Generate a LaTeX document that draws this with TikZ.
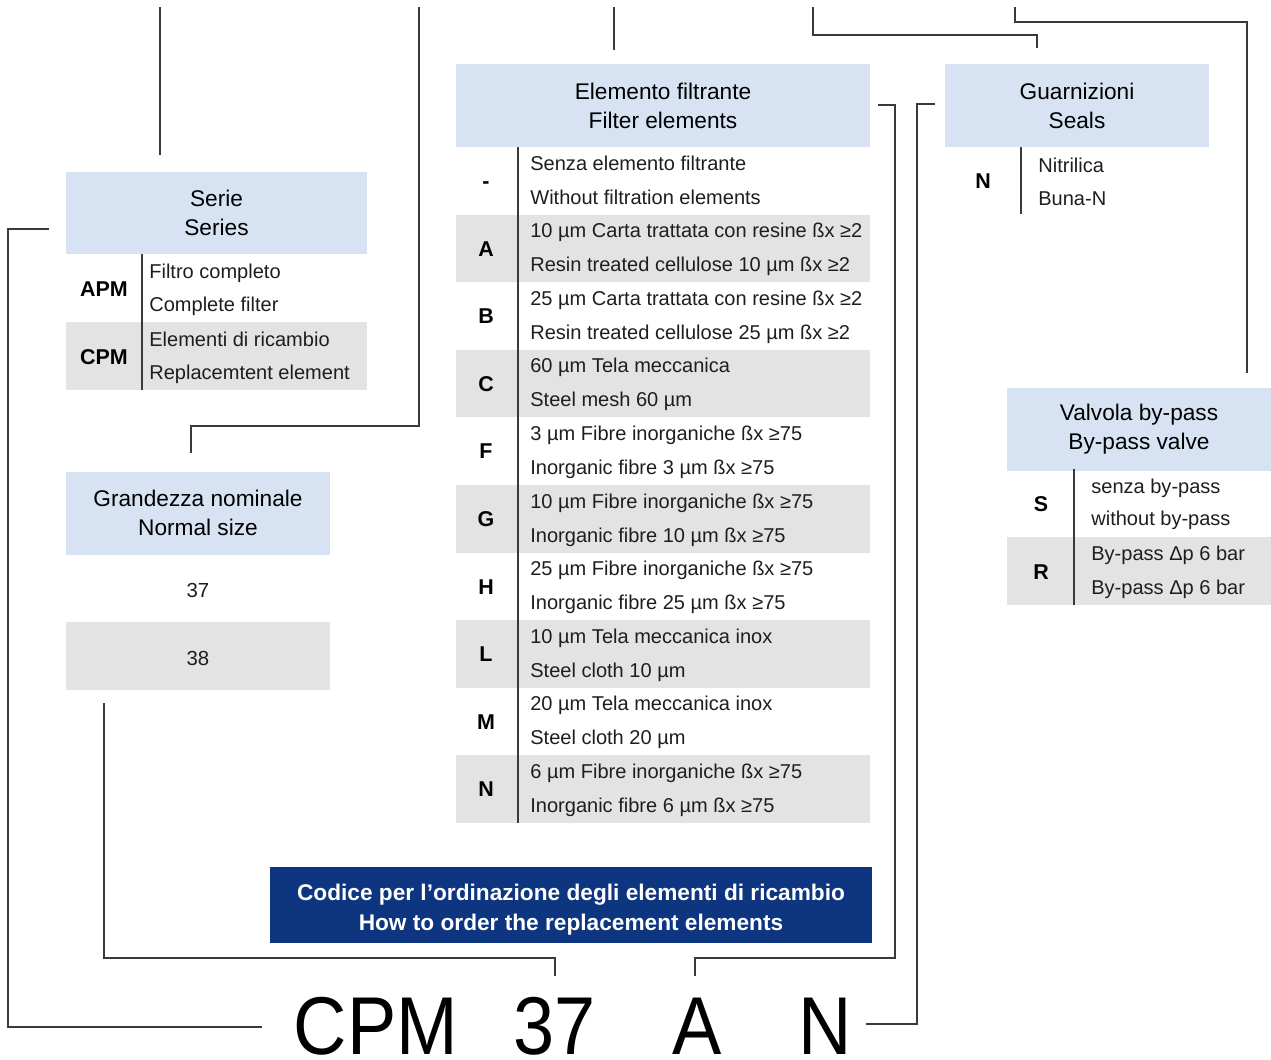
\documentclass[tikz,border=0pt]{standalone}
\usepackage{fontspec}
\setmainfont{Liberation Sans}
\usetikzlibrary{calc}
\definecolor{hdrblue}{HTML}{D7E3F3}
\definecolor{rowgray}{HTML}{E3E3E3}
\definecolor{navy}{HTML}{0E3580}
\definecolor{linegray}{HTML}{3A3A3A}
\definecolor{txt}{HTML}{1E1E1E}
\begin{document}
\begin{tikzpicture}[x=0.02cm,y=-0.02cm,
  hdr/.style={fill=hdrblue, inner sep=0pt, align=center, font=\fontsize{12.9}{16.4}\selectfont, text=black},
  rowtxt/.style={anchor=base west, inner sep=0pt, font=\fontsize{11.4}{13}\selectfont, text=txt},
  code/.style={anchor=base, inner sep=0pt, font=\fontsize{12.2}{14}\selectfont\bfseries, text=black},
  num/.style={anchor=base, inner sep=0pt, font=\fontsize{11.6}{14}\selectfont, text=txt},
  conn/.style={draw=linegray, line width=0.7pt},
  divider/.style={draw=linegray, line width=0.6pt},
  bigcode/.style={anchor=base, inner sep=0pt, font=\fontsize{46.7}{50}\selectfont, xscale=0.9, text=black},
  banner/.style={fill=navy, inner sep=0pt},
  bannertext/.style={text=white, inner sep=0pt, align=center, font=\fontsize{12.9}{17}\selectfont\bfseries}]

\useasboundingbox (0,0) rectangle (1271,1059);

% ---------- Serie ----------
\node[hdr, minimum width=301*0.02cm, minimum height=82*0.02cm] (serie) at (216.5,213) {Serie\\Series};
\fill[rowgray] (66,322) rectangle (367,390);
\draw[divider] (142,254) -- (142,390);
\node[code] (sApm) at (104,296) {APM};
\node[rowtxt] (sA1) at (149,278) {Filtro completo};
\node[rowtxt] (sA2) at (149,311) {Complete filter};
\node[code] (sCpm) at (104,364) {CPM};
\node[rowtxt] (sC1) at (149,346) {Elementi di ricambio};
\node[rowtxt] (sC2) at (149,379) {Replacemtent element};

% ---------- Grandezza ----------
\node[hdr, minimum width=264*0.02cm, minimum height=83*0.02cm] (grand) at (198,513) {Grandezza nominale\\Normal size};
\fill[rowgray] (66,622) rectangle (330,690);
\node[num] (g37) at (198,597) {37};
\node[num] (g38) at (198,665) {38};

% ---------- Elemento filtrante ----------
\node[hdr, minimum width=414*0.02cm, minimum height=83*0.02cm] (elem) at (663,105.5) {Elemento filtrante\\Filter elements};
\foreach \i/\c/\a/\b in {
  0/-/Senza elemento filtrante/Without filtration elements,
  1/A/10 µm Carta trattata con resine ßx ≥2/Resin treated cellulose 10 µm ßx ≥2,
  2/B/25 µm Carta trattata con resine ßx ≥2/Resin treated cellulose 25 µm ßx ≥2,
  3/C/60 µm Tela meccanica/Steel mesh 60 µm,
  4/F/3 µm Fibre inorganiche ßx ≥75/Inorganic fibre 3 µm ßx ≥75,
  5/G/10 µm Fibre inorganiche ßx ≥75/Inorganic fibre 10 µm ßx ≥75,
  6/H/25 µm Fibre inorganiche ßx ≥75/Inorganic fibre 25 µm ßx ≥75,
  7/L/10 µm Tela meccanica inox/Steel cloth 10 µm,
  8/M/20 µm Tela meccanica inox/Steel cloth 20 µm,
  9/N/6 µm Fibre inorganiche ßx ≥75/Inorganic fibre 6 µm ßx ≥75}{
  \pgfmathsetmacro\rt{147+67.6*\i}
  \ifodd\i \fill[rowgray] (456,\rt) rectangle (870,\rt+67.6); \fi
  \node[code] (ec\i) at (486,\rt+41.5) {\c};
  \node[rowtxt] (ea\i) at (530,\rt+23) {\a};
  \node[rowtxt] (eb\i) at (530,\rt+57) {\b};
}
\draw[divider] (518,147) -- (518,823);

% ---------- Guarnizioni ----------
\node[hdr, minimum width=264*0.02cm, minimum height=83*0.02cm] (guarn) at (1077,105.5) {Guarnizioni\\Seals};
\draw[divider] (1021,147) -- (1021,214);
\node[code] (gN) at (983,188.5) {N};
\node[rowtxt] (gN1) at (1038,172) {Nitrilica};
\node[rowtxt] (gN2) at (1038,205) {Buna-N};

% ---------- Valvola by-pass ----------
\node[hdr, minimum width=264*0.02cm, minimum height=83*0.02cm] (valv) at (1139,429.5) {Valvola by-pass\\By-pass valve};
\fill[rowgray] (1007,537) rectangle (1271,605);
\draw[divider] (1074,469) -- (1074,605);
\node[code] (vS) at (1041,511) {S};
\node[rowtxt] (vS1) at (1091,493) {senza by-pass};
\node[rowtxt] (vS2) at (1091,525) {without by-pass};
\node[code] (vR) at (1041,579) {R};
\node[rowtxt] (vR1) at (1091,560) {By-pass Δp 6 bar};
\node[rowtxt] (vR2) at (1091,594) {By-pass Δp 6 bar};

% ---------- Banner ----------
\node[banner, minimum width=602*0.02cm, minimum height=76*0.02cm] (banner) at (571,905) {};
\node[bannertext] (bannerlbl) at ($(banner.center)+(0,5)$) {Codice per l’ordinazione degli elementi di ricambio\\How to order the replacement elements};

% ---------- Big code ----------
\node[bigcode] (kCPM) at (376,1054) {CPM};
\node[bigcode] (k37) at (555,1054) {37};
\node[bigcode] (kA) at (697.5,1054) {A};
\node[bigcode] (kN) at (825,1054) {N};

% ---------- Connectors ----------
\coordinate (p1a) at (160,7);   \coordinate (p1b) at (160,155);
\coordinate (p2a) at (419,7);   \coordinate (p2b) at (419,426); \coordinate (p2c) at (191,426); \coordinate (p2d) at (191,453);
\coordinate (p3a) at (614,7);   \coordinate (p3b) at (614,50);
\coordinate (p4a) at (813,7);   \coordinate (p4b) at (813,35); \coordinate (p4c) at (1037,35); \coordinate (p4d) at (1037,48);
\coordinate (p5a) at (1015,7);  \coordinate (p5b) at (1015,22); \coordinate (p5c) at (1247,22); \coordinate (p5d) at (1247,373);
\coordinate (p6a) at (49,229);  \coordinate (p6b) at (8,229); \coordinate (p6c) at (8,1027); \coordinate (p6d) at (262,1027);
\coordinate (p7a) at (104,703); \coordinate (p7b) at (104,958); \coordinate (p7c) at (555,958); \coordinate (p7d) at (555,976);
\coordinate (p8a) at (878,105); \coordinate (p8b) at (895,105); \coordinate (p8c) at (895,958); \coordinate (p8d) at (695,958); \coordinate (p8e) at (695,976);
\coordinate (p9a) at (935,104); \coordinate (p9b) at (917,104); \coordinate (p9c) at (917,1024); \coordinate (p9d) at (866,1024);

\draw[conn] (p1a) -- (p1b);
\draw[conn] (p2a) -- (p2b) -- (p2c) -- (p2d);
\draw[conn] (p3a) -- (p3b);
\draw[conn] (p4a) -- (p4b) -- (p4c) -- (p4d);
\draw[conn] (p5a) -- (p5b) -- (p5c) -- (p5d);
\draw[conn] (p6a) -- (p6b) -- (p6c) -- (p6d);
\draw[conn] (p7a) -- (p7b) -- (p7c) -- (p7d);
\draw[conn] (p8a) -- (p8b) -- (p8c) -- (p8d) -- (p8e);
\draw[conn] (p9a) -- (p9b) -- (p9c) -- (p9d);
\end{tikzpicture}
\end{document}
